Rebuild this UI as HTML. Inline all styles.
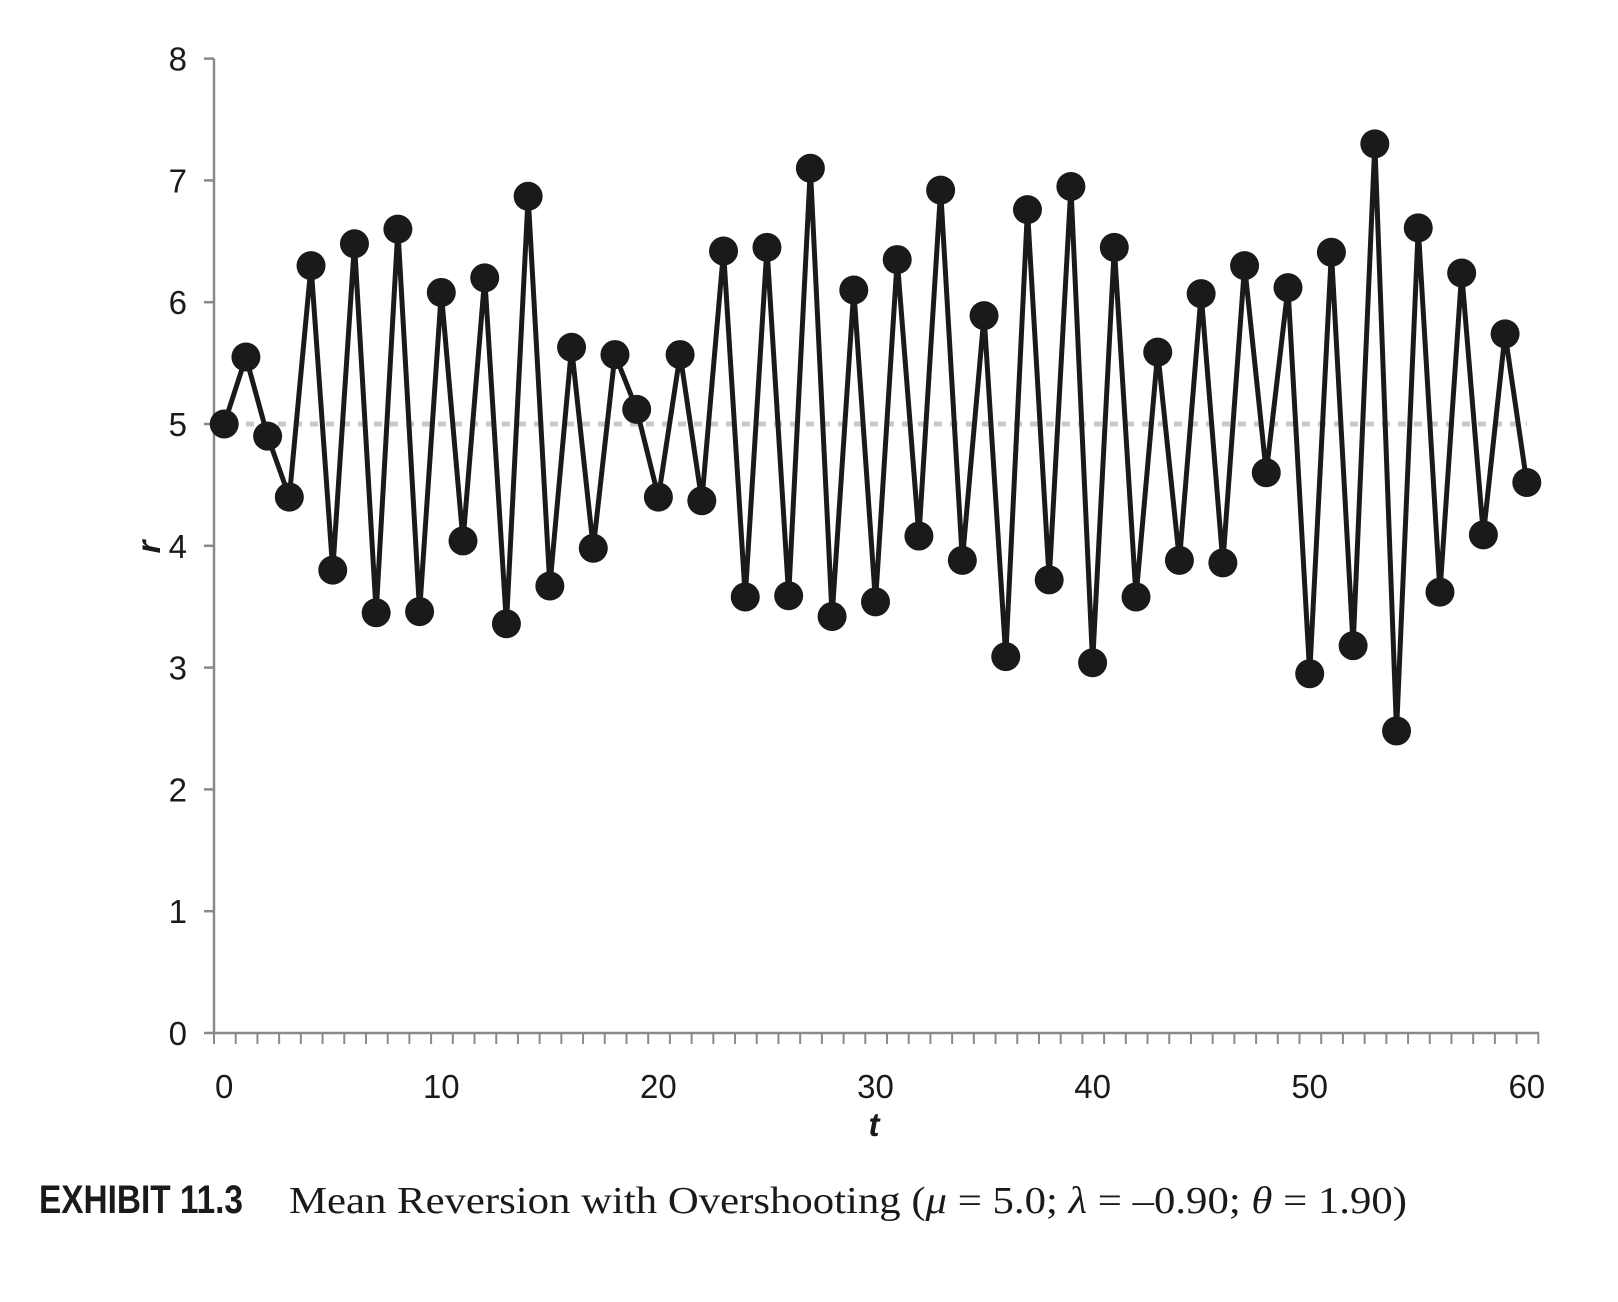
<!DOCTYPE html>
<html><head><meta charset="utf-8"><style>
html,body{margin:0;padding:0;background:#fff;}
svg{display:block;}
</style></head><body>
<svg width="1618" height="1302" viewBox="0 0 1618 1302" xmlns="http://www.w3.org/2000/svg">
<g id="axes" stroke="#8a8a8a" stroke-width="2.5" fill="none"></g>
<g id="chart"></g>
<g font-family="Liberation Sans, sans-serif" font-size="33" fill="#1a1a1a" id="labels"></g>
<text x="39" y="1213" font-family="Liberation Sans, sans-serif" font-weight="bold" font-size="40" fill="#1a1a1a" textLength="204" lengthAdjust="spacingAndGlyphs">EXHIBIT 11.3</text>
<text x="289" y="1213" font-family="Liberation Serif, serif" font-size="38" fill="#1a1a1a" textLength="1118" lengthAdjust="spacingAndGlyphs">Mean Reversion with Overshooting (<tspan font-style="italic">μ</tspan> = 5.0; <tspan font-style="italic">λ</tspan> = –0.90; <tspan font-style="italic">θ</tspan> = 1.90)</text>
<script>
var d=[5.0,5.55,4.9,4.4,6.3,3.8,6.48,3.45,6.6,3.46,6.08,4.04,6.2,3.36,6.87,3.67,5.63,3.98,5.57,5.12,4.4,5.57,4.37,6.42,3.58,6.45,3.59,7.1,3.42,6.1,3.54,6.35,4.08,6.92,3.88,5.89,3.09,6.76,3.72,6.95,3.04,6.45,3.58,5.59,3.88,6.07,3.86,6.3,4.6,6.12,2.95,6.41,3.18,7.3,2.48,6.61,3.62,6.24,4.09,5.74,4.52];
var X=function(t){return 224.2+t*21.71;},Y=function(v){return 1033-v*121.8;};
var ns="http://www.w3.org/2000/svg";
function el(p,n,a,txt){var e=document.createElementNS(ns,n);for(var k in a)e.setAttribute(k,a[k]);if(txt!==undefined)e.textContent=txt;p.appendChild(e);return e;}
var ax=document.getElementById('axes'),ch=document.getElementById('chart'),lb=document.getElementById('labels');
el(ax,'line',{x1:214,y1:Y(8),x2:214,y2:1033});
el(ax,'line',{x1:214,y1:1033,x2:1539,y2:1033});
for(var i=0;i<=8;i++){el(ax,'line',{x1:204,y1:Y(i),x2:214,y2:Y(i)});el(lb,'text',{x:187,y:Y(i)+12,'text-anchor':'end'},String(i));}
for(var t=0;t<=61;t++){var x=214+t*21.71;if(x>1540)break;el(ax,'line',{x1:x,y1:1033,x2:x,y2:1044,'stroke-width':2});}
for(var t=0;t<=60;t+=10){el(lb,'text',{x:X(t),y:1098,'text-anchor':'middle'},String(t));}
el(lb,'text',{x:874,y:1136,'text-anchor':'middle','font-weight':'bold','font-style':'italic'},'t');
el(lb,'text',{x:0,y:0,'text-anchor':'middle','font-weight':'bold','font-style':'italic',transform:'translate(160,547) rotate(-90)'},'r');
el(ch,'line',{x1:X(1),y1:Y(5),x2:X(60),y2:Y(5),stroke:'#c8c8c8','stroke-width':5,'stroke-dasharray':'8 8'});
var pts=d.map(function(v,i){return X(i)+','+Y(v);}).join(' ');
el(ch,'polyline',{points:pts,fill:'none',stroke:'#1a1a1a','stroke-width':5,'stroke-linejoin':'round'});
d.forEach(function(v,i){el(ch,'circle',{cx:X(i),cy:Y(v),r:14.5,fill:'#1a1a1a'});});
</script>
</svg>
</body></html>
